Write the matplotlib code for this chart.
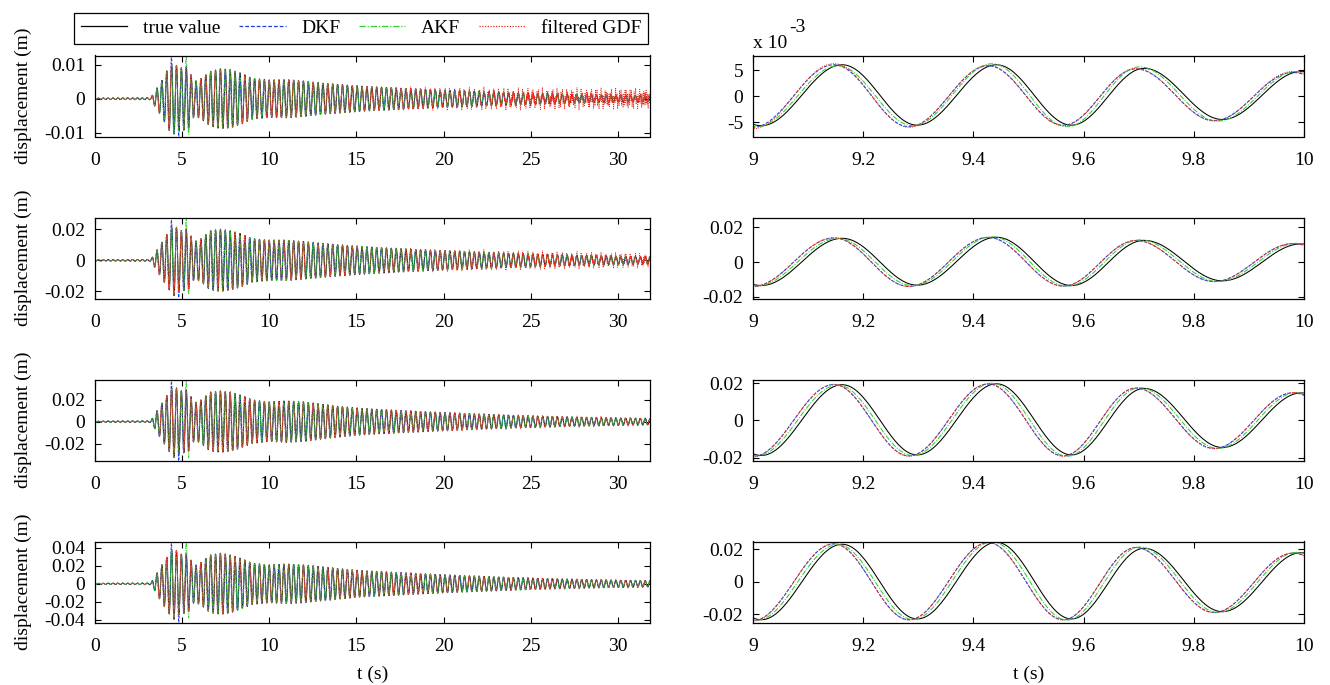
import numpy as np
import matplotlib
matplotlib.use("Agg")
import matplotlib.pyplot as plt
from matplotlib.lines import Line2D

plt.rcParams['font.family'] = ['Liberation Serif', 'DejaVu Serif']
plt.rcParams['font.size'] = 14

# ---------------- data ----------------
series_names = ["true value", "DKF", "AKF", "filtered GDF"]
series_colors = ["#000000", "#1f3de0", "#2fd02f", "#ec2a1e"]
series_styles = ["-", (0, (3.0, 1.6)), (0, (5.0, 1.5, 1.0, 1.5)), (0, (1.0, 1.2))]

dominant_freq_hz = 3.57          # (period ~0.28 s)
first_true_peak_s = 9.162
lead_s = [0.0, 0.015, 0.008, 0.015]   # estimates lead the true value

left_xlim = (0, 31.84)
left_xticks = [0, 5, 10, 15, 20, 25, 30]
right_xlim = (9, 10)
right_xticks = [9, 9.2, 9.4, 9.6, 9.8, 10]
right_xticklabels = ["9", "9.2", "9.4", "9.6", "9.8", "10"]

# envelope of the oscillation (x1e-3 m)
env_t = [0, 3.2, 3.4, 3.8, 4.2, 4.5, 4.9, 5.3, 5.7, 6.1, 6.6, 7.2, 7.8, 8.4, 9.0,
         10, 11, 12, 13, 14, 15, 16, 18, 20, 22, 24, 26, 28, 30, 32]
env_row1 = [0.2, 0.3, 2, 5, 9, 10.5, 9, 9.5, 5, 6, 8, 8.8, 8.5, 7.5, 6,
            5.5, 5.6, 5.2, 4.6, 4.2, 3.8, 3.5, 3.0, 2.5, 2.2, 1.8, 1.5, 1.2, 1.0, 0.8]
env_row2 = [0.4, 0.6, 4, 11, 18, 23, 19, 20, 12, 14, 19, 20, 19, 17, 14,
            13, 13, 12, 11, 10, 9.2, 8.4, 7.2, 6.2, 5.3, 4.5, 3.8, 3.2, 2.7, 2.3]
env_row3 = [0.5, 0.8, 6, 16, 26, 33, 28, 29, 17, 20, 27, 28, 27, 24, 20,
            18, 19, 18, 16, 14, 12.5, 11.5, 9.8, 8.3, 7, 5.8, 4.8, 4, 3.3, 2.8]
env_row4 = [0.6, 1.0, 7, 20, 32, 40, 33, 33, 20, 24, 32, 34, 32, 28, 23,
            21, 22, 21, 19, 17, 15, 14, 12, 10, 8.5, 7, 5.8, 4.8, 4, 3.4]
# extra high-frequency content of the filtered GDF curve (x1e-3 m)
gdf_noise_row1 = [0]*22 + [0.5, 1.0, 1.3, 1.6, 1.9, 2.1, 2.3, 2.5]
gdf_noise_row2 = [0]*22 + [0.6, 1.2, 1.6, 2.0, 2.3, 2.5, 2.6, 2.7]
gdf_noise_row3 = [0]*22 + [0.3, 0.6, 0.8, 1.0, 1.1, 1.2, 1.3, 1.3]
gdf_noise_row4 = [0]*22 + [0.2, 0.4, 0.5, 0.6, 0.7, 0.8, 0.8, 0.8]

# isolated spikes (time s, value x1e-3 m)
dkf_spikes = [[(4.45, 12.7), (4.6, -11.1)], [(4.45, 26), (4.6, -24)],
              [(4.45, 37), (4.6, -36)], [(4.45, 45), (4.6, -43)]]
akf_spikes = [[(5.25, 12.7), (5.4, -10.5)], [(5.25, 27.5), (5.4, -22)],
              [(5.25, 39), (5.4, -33)], [(5.25, 47), (5.4, -38)]]

left_ylims = [(-0.0111, 0.0127), (-0.0245, 0.0275), (-0.0355, 0.0385), (-0.043, 0.047)]
left_yticks = [[-0.01, 0, 0.01], [-0.02, 0, 0.02], [-0.02, 0, 0.02],
               [-0.04, -0.02, 0, 0.02, 0.04]]
left_yticklabels = [["-0.01", "0", "0.01"], ["-0.02", "0", "0.02"], ["-0.02", "0", "0.02"],
                    ["-0.04", "-0.02", "0", "0.02", "0.04"]]

# zoomed panels: extremum times (s) of the true value and extremum values (x1e-3 m)
ext_t_true = [8.87, 9.015, 9.162, 9.298, 9.442, 9.578, 9.71, 9.852, 9.995, 10.14]
right_true = [[5.0, -5.7, 6.1, -5.6, 6.1, -5.6, 5.4, -4.5, 4.8, -4.0],
              [12, -13.5, 13.7, -13.3, 14.3, -13.5, 12.5, -10.8, 10.5, -9],
              [17, -18.8, 19.2, -18.5, 19.7, -18.5, 17.2, -14.5, 14.8, -13],
              [21, -23.5, 23, -23, 24.2, -23, 20.5, -18.5, 17.8, -16]]
right_dkf = [[5.2, -6.0, 6.1, -5.9, 5.9, -5.6, 5.3, -4.7, 4.6, -4.0],
             [12, -14, 13.9, -14, 14.2, -13.8, 12.4, -11.2, 10.6, -9],
             [17, -19.3, 19.3, -19, 19.6, -19, 17.4, -15, 14.8, -13],
             [21, -24, 23.2, -23.5, 24, -23.5, 21, -19, 17.5, -16]]
right_akf = [[5.0, -5.9, 5.9, -5.7, 6.3, -5.9, 5.7, -4.8, 4.8, -4.0],
             [12, -13.8, 13.6, -13.6, 14.6, -13.9, 12.8, -11.2, 10.8, -9],
             [17, -19, 19, -18.8, 20, -19.2, 17.6, -15, 15, -13],
             [21, -23.8, 22.8, -23.3, 24.5, -23.7, 21.3, -19, 18, -16]]
right_gdf = [[5.2, -6.3, 6.3, -6.0, 6.0, -5.7, 5.4, -4.8, 4.8, -4.0],
             [12, -14.2, 14, -14.1, 14.3, -13.9, 12.5, -11.3, 10.7, -9],
             [17, -19.5, 19.4, -19.2, 19.7, -19.2, 17.4, -15.2, 15, -13],
             [21, -24.2, 23.4, -23.6, 24.1, -23.6, 21, -19.1, 17.6, -16]]

right_ylims = [(-0.0078, 0.0079), (-0.021, 0.0257), (-0.0215, 0.022), (-0.0252, 0.0247)]
right_yticks = [[-0.005, 0, 0.005], [-0.02, 0, 0.02], [-0.02, 0, 0.02], [-0.02, 0, 0.02]]
right_yticklabels = [["-5", "0", "5"], ["-0.02", "0", "0.02"], ["-0.02", "0", "0.02"],
                     ["-0.02", "0", "0.02"]]

ylabel_text = "displacement (m)"
xlabel_text = "t (s)"

# ---------------- drawing helpers ----------------
t_left = np.arange(0.0, 31.84, 0.004)


def left_curve(env_vals, lead, spikes=(), noise_vals=None):
    amp = np.interp(t_left, env_t, np.asarray(env_vals) * 1e-3)
    phase = 2 * np.pi * dominant_freq_hz * (t_left + lead - first_true_peak_s)
    k = np.round(phase / np.pi)
    for ts, val in spikes:
        ph_s = 2 * np.pi * dominant_freq_hz * (ts + lead - first_true_peak_s)
        ks = np.round(ph_s / np.pi)
        if (1 if ks % 2 == 0 else -1) != np.sign(val):
            ks += 1
        amp = np.where(k == ks, abs(val) * 1e-3, amp)
    y = amp * np.cos(phase)
    if noise_vals is not None:
        namp = np.interp(t_left, env_t, np.asarray(noise_vals) * 1e-3)
        y = y + namp * (0.6 * np.sin(2 * np.pi * 13.1 * t_left)
                        + 0.4 * np.sin(2 * np.pi * 21.7 * t_left + 1.3))
    return y


def through_extrema(tx, vx, n=40):
    xs, ys = [], []
    for i in range(len(tx) - 1):
        s = np.linspace(0, 1, n, endpoint=False)
        xs.append(tx[i] + (tx[i + 1] - tx[i]) * s)
        ys.append(vx[i] + (vx[i + 1] - vx[i]) * (1 - np.cos(np.pi * s)) / 2)
    return np.concatenate(xs), np.concatenate(ys)


def style_axes(ax):
    ax.tick_params(direction='in', top=True, right=True, length=4.5, width=0.8,
                   labelsize=14)
    ax.tick_params(axis='x', pad=11.5)
    ax.tick_params(axis='y', pad=7)
    for sp in ax.spines.values():
        sp.set_linewidth(0.9)


# ---------------- figure ----------------
W, H = 1330, 685
fig = plt.figure(figsize=(W / 100, H / 100), dpi=100)

row_tops = [55.5, 217.5, 379.5, 541.5]
row_h = 81
left_x0, left_w = 95, 555
right_x0, right_w = 753, 551

envs = [env_row1, env_row2, env_row3, env_row4]
noises = [gdf_noise_row1, gdf_noise_row2, gdf_noise_row3, gdf_noise_row4]
rights = [right_true, right_dkf, right_akf, right_gdf]

for r in range(4):
    bottom = 1 - (row_tops[r] + row_h) / H
    axL = fig.add_axes([left_x0 / W, bottom, left_w / W, row_h / H])
    axR = fig.add_axes([right_x0 / W, bottom, right_w / W, row_h / H])

    curves = [
        left_curve(envs[r], lead_s[0]),
        left_curve(envs[r], lead_s[1], dkf_spikes[r]),
        left_curve(envs[r], lead_s[2], akf_spikes[r]),
        left_curve(envs[r], lead_s[3], noise_vals=noises[r]),
    ]
    for i, y in enumerate(curves):
        axL.plot(t_left, y, color=series_colors[i], linestyle=series_styles[i],
                 linewidth=0.65)
    axL.set_xlim(*left_xlim)
    axL.set_ylim(*left_ylims[r])
    axL.set_xticks(left_xticks)
    axL.set_yticks(left_yticks[r], left_yticklabels[r])
    style_axes(axL)
    axL.set_ylabel(ylabel_text, fontsize=14)
    axL.yaxis.set_label_coords(-0.1135, 0.5)

    for i in range(4):
        tx = np.asarray(ext_t_true) - lead_s[i]
        vx = np.asarray(rights[i][r]) * 1e-3
        xs, ys = through_extrema(tx, vx)
        axR.plot(xs, ys, color=series_colors[i], linestyle=series_styles[i],
                 linewidth=0.75)
    axR.set_xlim(*right_xlim)
    axR.set_ylim(*right_ylims[r])
    axR.set_xticks(right_xticks, right_xticklabels)
    axR.set_yticks(right_yticks[r], right_yticklabels[r])
    style_axes(axR)

    if r == 0:
        fig.text(right_x0 / W, 1 - 44 / H, "x 10", fontsize=14, va='center', ha='left')
        fig.text((right_x0 + 36) / W, 1 - 28 / H, "-3", fontsize=14, va='center', ha='left')
    if r == 3:
        axL.set_xlabel(xlabel_text, fontsize=14, labelpad=7.5)
        axR.set_xlabel(xlabel_text, fontsize=14, labelpad=7.5)

handles = [Line2D([], [], color=series_colors[i], linestyle=series_styles[i], linewidth=0.9)
           for i in range(4)]
leg = fig.legend(handles, series_names, loc='lower left', ncol=4, mode='expand',
                 bbox_to_anchor=(74 / W, 1 - 44 / H, (648 - 74) / W, 34 / H),
                 frameon=True, fancybox=False, edgecolor='black', framealpha=1,
                 handlelength=2.4, borderaxespad=0, fontsize=14, borderpad=0.35,
                 handletextpad=0.8, columnspacing=1.0)
leg.get_frame().set_linewidth(0.9)

fig.savefig("out.png", dpi=100)
